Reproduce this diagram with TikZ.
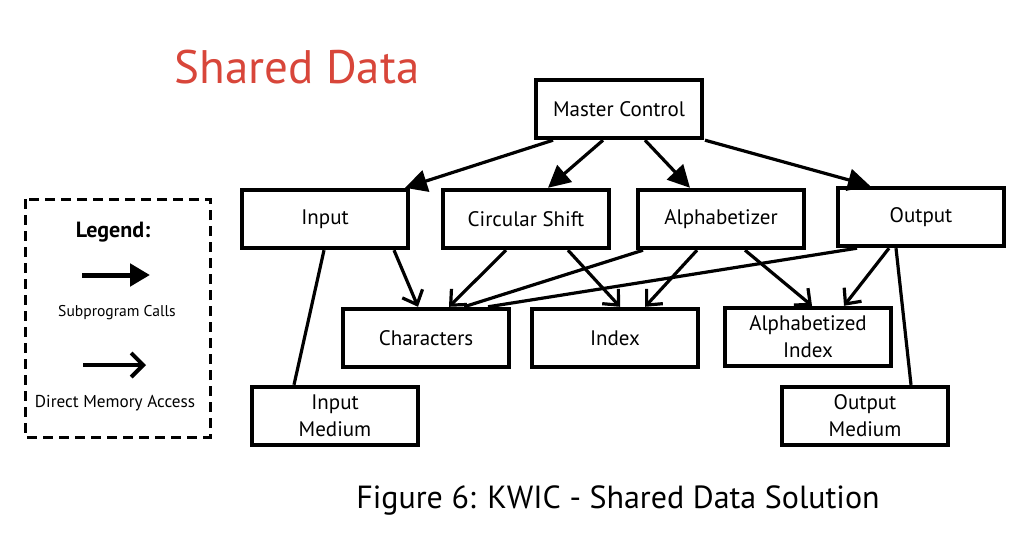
\documentclass[tikz,border=0pt]{standalone}
\usepackage{fontspec}
\setmainfont{PT Sans}
\usetikzlibrary{arrows.meta, calc}
\definecolor{titlered}{HTML}{D8463A}

\begin{document}
\begin{tikzpicture}[x=0.5pt, y=-0.5pt, every node/.style={font=\fontsize{10.5}{13.5}\selectfont},
  box/.style={draw, line width=2.2pt, minimum width=83pt, minimum height=29pt, align=center, inner sep=1pt},
  call/.style={line width=1.6pt, -{Triangle[length=11pt,width=11pt]}},
  access/.style={line width=1.6pt, -{Straight Barb[length=6pt,width=11pt]}},
  link/.style={line width=1.6pt}]
  \useasboundingbox (0,0) rectangle (1036,540);
  \node[text=titlered, font=\fontsize{23.5}{28}\selectfont] (title) at (297,67) {Shared Data};
  \node[box] (master) at (619,109) {Master Control};
  \node[box] (input) at (325,219) {Input};
  \node[box] (circ) at (526,219) {Circular Shift};
  \node[box] (alpha) at (721,219) {Alphabetizer};
  \node[box] (output) at (921,217) {Output};
  \node[box] (chars) at (426,338) {Characters};
  \node[box] (index) at (615,338) {Index};
  \node[box] (alphidx) at (808,337) {Alphabetized\\Index};
  \node[box] (inmed) at (335,416) {Input\\Medium};
  \node[box] (outmed) at (865,416) {Output\\Medium};
  \draw[call] ($(master.south)+(-66,0)$) -- ($(input.north)+(80,0)$);
  \draw[call] ($(master.south)+(-16,0)$) -- ($(circ.north)+(22,0)$);
  \draw[call] ($(master.south)+(26,0)$) -- ($(alpha.north)+(-31,0)$);
  \draw[call] ($(master.south)+(86,0)$) -- ($(output.north)+(-51,0)$);
  \draw[access] ($(input.south)+(69,0)$) -- ($(chars.north)+(-8,0)$);
  \draw[access] ($(circ.south)+(-20,0)$) -- ($(chars.north)+(23,0)$);
  \draw[link] ($(alpha.south)+(-78,0)$) -- ($(chars.north)+(38,0)$);
  \draw[link] ($(output.south)+(-64,0)$) -- ($(chars.north)+(62,0)$);
  \draw[access] ($(circ.south)+(42,0)$) -- ($(index.north)+(5,0)$);
  \draw[access] ($(alpha.south)+(-24,0)$) -- ($(index.north)+(30,0)$);
  \draw[access] ($(alpha.south)+(24,0)$) -- ($(alphidx.north)+(4,0)$);
  \draw[access] ($(output.south)+(-32,0)$) -- ($(alphidx.north)+(36,0)$);
  \draw[link] ($(input.south)+(-1,0)$) -- ($(inmed.north)+(-41,0)$);
  \draw[link] ($(output.south)+(-25,0)$) -- ($(outmed.north)+(46,0)$);
  \draw[line width=1.5pt, dash pattern=on 5pt off 3pt] (25,199) rectangle (210,437);
  \node[font=\fontsize{11}{13}\selectfont\bfseries] (legendtitle) at (113,232) {Legend:};
  \coordinate (callfrom) at (82,275);
  \coordinate (callto) at (150,275);
  \draw[line width=2.5pt, -{Triangle[length=10pt,width=11pt]}] (callfrom) -- (callto);
  \node[font=\fontsize{7.8}{9}\selectfont] (calltext) at (117,313) {Subprogram Calls};
  \coordinate (accfrom) at (83,365);
  \coordinate (accto) at (146,365);
  \draw[line width=2pt, -{Straight Barb[length=6pt,width=12pt]}] (accfrom) -- (accto);
  \node[font=\fontsize{8.6}{10}\selectfont] (acctext) at (115,403) {Direct Memory Access};
  \node[font=\fontsize{16}{19}\selectfont] (caption) at (618,500) {Figure 6: KWIC - Shared Data Solution};
\end{tikzpicture}
\end{document}
